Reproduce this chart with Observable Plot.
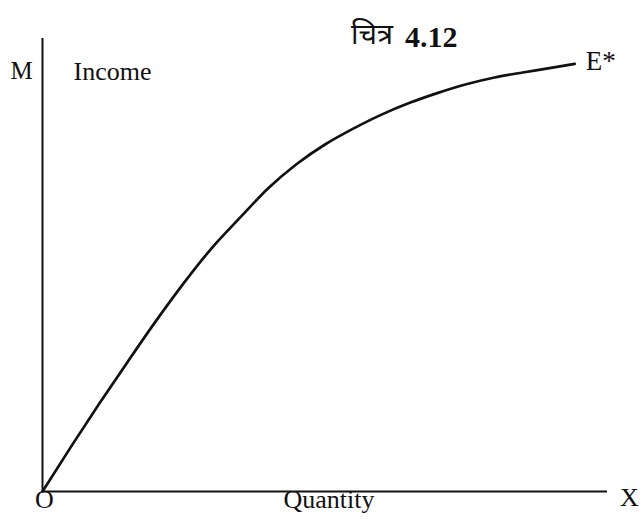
<!DOCTYPE html>
<html>
<head>
<meta charset="utf-8">
<script src="https://cdn.jsdelivr.net/npm/d3@7"></script>
<script src="https://cdn.jsdelivr.net/npm/@observablehq/plot@0.6"></script>
<style>
  html, body { margin: 0; padding: 0; background: #fff; }
  #chart svg { display: block; }
</style>
</head>
<body>
<div id="chart"></div>
<script>
// Engel curve (Income vs Quantity) (0–100 scale)
const quantity = [0, 5, 10, 15, 20, 25, 30, 35, 40, 45, 50, 55, 60, 65, 70, 75, 80, 85, 90, 94.2];
const income   = [0, 9.8, 19.3, 28.5, 37.5, 46, 53.8, 60.5, 67, 72.3, 76.6, 80.1, 83.2, 85.8, 88, 89.9, 91.4, 92.5, 93.5, 94.4];

const titleText = "चित्र";
const titleNum = "4.12";
const yAxisLetter = "M";
const yAxisName = "Income";
const xAxisLetter = "X";
const xAxisName = "Quantity";
const originLabel = "O";
const curveLabel = "E*";

const curve = quantity.map((q, i) => ({q, m: income[i]}));
const last = curve[curve.length - 1];

const serif = "'Liberation Serif', 'Times New Roman', serif";
const ink = "#111";

const chart = Plot.plot({
  width: 641,
  height: 519,
  marginLeft: 42,
  marginRight: 34,
  marginTop: 38,
  marginBottom: 28,
  x: {domain: [0, 100], axis: null},
  y: {domain: [0, 100], axis: null},
  style: {fontFamily: serif, background: "#fff", color: ink},
  marks: [
    Plot.ruleX([0], {y1: 0, y2: 100, stroke: ink, strokeWidth: 2}),
    Plot.ruleY([0], {x1: 0, x2: 100, stroke: ink, strokeWidth: 2}),
    Plot.line(curve, {x: "q", y: "m", curve: "monotone-x", stroke: ink, strokeWidth: 2.7}),
    // curve end label
    Plot.text([last], {x: "q", y: "m", text: () => curveLabel, textAnchor: "start", dx: 11, dy: -3, fontSize: 27, fill: ink}),
    // axis letters / names
    Plot.text([yAxisLetter], {frameAnchor: "top-left", text: d => d, textAnchor: "middle", dx: -21, dy: 23, fontSize: 25, fill: ink}),
    Plot.text([yAxisName], {frameAnchor: "top-left", text: d => d, textAnchor: "start", dx: 31, dy: 23, fontSize: 26, fill: ink}),
    Plot.text([originLabel], {frameAnchor: "bottom-left", text: d => d, textAnchor: "middle", dx: 2, dy: 16, fontSize: 26, fill: ink}),
    Plot.text([xAxisName], {frameAnchor: "bottom", text: d => d, textAnchor: "middle", dx: 4, dy: 16, fontSize: 26, fill: ink}),
    Plot.text([xAxisLetter], {frameAnchor: "bottom-right", text: d => d, textAnchor: "middle", dx: 22, dy: 14, fontSize: 26, fill: ink}),
    // title
    Plot.text([titleText], {frameAnchor: "top", text: d => d, textAnchor: "end", dx: 68, dy: -15, fontSize: 29, fontFamily: "'Noto Sans Devanagari', 'Noto Serif Devanagari', 'Lohit Devanagari', 'FreeSerif', sans-serif", fill: ink}),
    Plot.text([titleNum], {frameAnchor: "top", text: d => d, textAnchor: "start", dx: 80, dy: -13, fontSize: 30, fontWeight: "bold", fill: ink})
  ]
});
document.getElementById("chart").append(chart);
</script>
</body>
</html>
